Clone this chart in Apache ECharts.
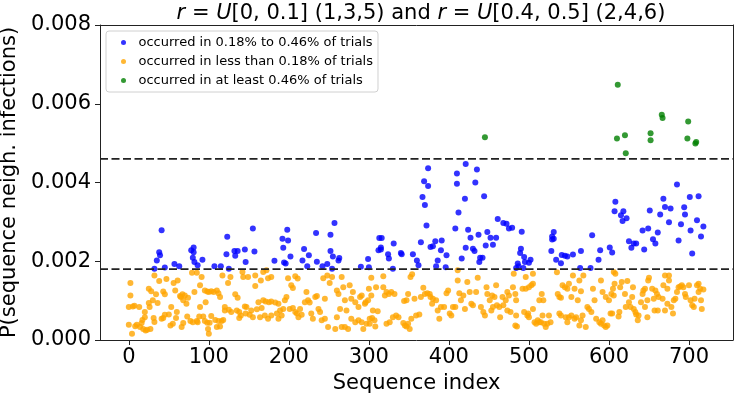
<!DOCTYPE html>
<html>
<head>
<meta charset="UTF-8">
<title>Sequence neighbourhood infections</title>
<style>
  html, body { margin:0; padding:0; background:#fff; }
  #chart { width:734px; height:397px; }
</style>
<script src="https://cdn.jsdelivr.net/npm/echarts@6/dist/echarts.min.js"></script>
</head>
<body>
<div id="chart"></div>
<script>
// values are [sequence index, probability in units of 1e-3]
const bluePts = [
  [32,1.81],[35,2.02],[38,2.23],[39,2.15],[41,2.79],[45,1.84],[57,1.93],[63,1.87],
  [78,2.28],[81,2.35],[81,2.23],[80,2.09],[82,1.98],[86,1.90],[92,2.04],[107,1.87],[115,1.87],
  [122,2.18],[123,2.62],[125,1.81],[132,2.26],[133,2.14],[136,2.26],[145,2.30],[146,1.98],
  [155,2.83],[157,2.25],[182,2.01],[192,2.57],[193,2.34],[194,1.97],[196,1.94],[198,2.80],
  [199,2.53],[202,2.12],[217,2.02],[219,2.31],[223,1.87],[225,2.15],[234,2.72],[235,1.99],
  [242,1.87],[248,1.93],[252,2.67],[252,2.26],[254,1.81],[255,2.12],[257,2.97],[262,2.02],
  [263,2.08],[290,1.86],[299,2.06],[300,1.85],
  [313,2.59],[316,2.59],[315,2.35],[312,2.28],[315,2.30],[324,2.18],[325,2.07],[331,2.45],
  [330,1.81],[340,2.21],[341,2.18],[355,2.18],[360,2.02],[362,1.90],[365,2.48],[374,4.36],
  [369,4.03],[374,3.91],[367,3.63],[370,3.43],[372,2.91],[377,2.36],[380,2.38],[383,2.51],
  [391,2.53],[390,2.28],[397,2.15],[386,2.02],[384,1.87],[396,1.85],[421,4.47],[410,4.23],
  [435,4.33],[410,3.97],[433,4.00],[420,3.59],[444,3.65],[412,3.24],[408,2.83],[424,2.80],
  [427,2.60],[437,2.67],[448,2.74],[446,2.40],[452,2.60],[421,2.34],[430,2.32],[432,2.26],
  [416,2.07],[439,2.09],[442,2.09],[438,1.98],
  [455,2.42],[459,2.60],[461,3.07],[468,2.97],[472,2.95],[475,2.83],[479,2.85],[491,2.75],
  [490,2.32],[489,2.21],[494,2.11],[495,1.98],[502,2.04],[500,1.96],[486,1.94],[487,1.87],
  [484,1.83],[493,1.83],[531,2.74],[529,2.63],[529,2.55],[531,2.57],[528,2.26],[534,2.04],
  [540,1.95],[541,2.16],[545,2.14],[548,2.12],[555,2.17],[565,2.26],[564,1.83],[579,2.66],
  [577,1.83],[589,2.28],[587,2.04],[601,2.35],[604,2.22],
  [608,3.51],[607,3.27],[615,3.17],[618,3.27],[617,3.02],[622,3.09],[625,2.51],[628,2.34],
  [631,2.45],[634,2.45],[644,2.30],[642,2.78],[649,2.83],[651,3.29],[661,2.73],[655,2.56],
  [658,2.45],[664,3.19],[668,3.59],[670,3.38],[677,3.34],[675,2.99],[685,3.95],[694,3.37],
  [695,3.19],[690,2.94],[687,2.53],[702,2.78],[701,3.63],[712,3.65],[710,3.04],[718,2.88],
  [715,2.63],[704,2.20]
];
const orangePts = [
  [2,1.45],[2,1.13],[0,0.84],[5,0.85],[7,0.87],[0,0.39],[4,0.16],[8,0.35],[10,0.39],[13,0.84],
  [14,0.33],[17,0.51],[20,0.71],[20,0.58],[18,0.28],[21,0.24],[16,0.43],[25,1.30],[28,1.24],
  [25,0.94],[30,1.01],[26,0.84],[32,1.64],[31,0.56],[32,0.46],[27,0.28],[23,0.26],[34,1.16],
  [38,1.50],[43,1.23],[45,1.16],[36,0.94],[41,0.54],[43,0.56],[47,1.55],[45,0.64],[50,0.65],
  [53,0.84],[52,0.37],[55,0.41],[56,1.45],[58,1.26],[60,0.71],[61,1.51],[59,0.56],[64,1.12],
  [67,1.16],[65,1.09],[70,1.13],[68,1.01],[68,0.43],[66,0.33],[73,0.60],[74,1.07],[72,0.92],
  [79,1.71],[85,1.71],[82,1.22],[77,0.48],[80,0.45],[85,0.48],[89,0.84],[88,0.60],[91,1.60],
  [89,1.39],[86,0.45],[95,1.26],[98,1.23],[100,1.22],[103,1.24],[93,0.60],[96,0.96],[99,0.28],
  [100,0.16],[103,0.61],[101,0.44],[98,0.44],[95,0.48],[106,1.22],[110,1.26],[112,1.19],
  [114,1.09],[108,0.51],[112,0.48],[116,0.48],[117,1.64],[110,0.33],[114,0.34],[118,0.51],
  [120,0.84],[125,0.77],[127,1.60],[128,0.71],[120,0.75],[124,1.45],[133,1.16],[136,1.07],
  [138,0.71],[142,1.73],[143,1.60],[140,0.62],[135,0.75],[138,0.56],[145,0.85],[146,0.67],
  [149,1.60],[158,1.64],[168,1.73],[172,1.77],[174,1.57],[178,1.60],[165,1.51],[158,1.37],
  [162,0.96],[168,1.01],[171,0.98],[175,0.96],[178,0.98],[183,0.95],[187,0.92],[147,0.84],
  [153,0.75],[160,0.78],[166,0.81],[151,0.64],[155,0.58],[164,0.58],[170,0.62],[174,0.54],
  [178,0.62],[185,0.67],[187,0.54],[189,0.75],[191,0.62],[193,0.79],[195,1.01],[197,1.09],
  [199,1.57],[203,1.39],[205,1.32],[208,1.62],[211,1.56],[201,0.79],[205,0.81],[208,0.71],
  [210,0.67],[214,0.79],[216,0.64],[212,0.58],[222,1.22],[220,0.96],[224,1.01],[226,0.95],
  [228,0.67],[230,0.54],[233,1.09],[235,1.12],[237,0.79],[239,0.71],[241,0.50],[245,1.05],
  [245,0.54],[243,1.57],[248,1.64],[251,1.45],[254,1.60],[249,0.33],[258,0.28],[260,1.26],
  [262,1.17],[268,1.34],[266,1.60],[270,1.01],[264,0.79],[260,0.58],[266,0.33],[270,0.33],
  [272,0.75],[274,0.28],[276,1.39],[278,1.05],[280,1.22],[283,0.96],[287,0.84],[289,1.09],
  [291,1.13],[295,0.92],[278,0.54],[283,0.45],[287,0.50],[291,0.45],[293,0.28],[296,0.96],
  [297,0.41],[299,1.01],[300,1.30],
  [303,1.58],[318,1.62],[303,1.13],[309,1.34],[318,1.34],[322,1.22],[325,1.17],[328,1.22],
  [332,1.17],[320,1.13],[301,0.54],[304,0.56],[307,0.50],[301,0.41],[308,0.34],[305,0.75],
  [311,0.73],[322,0.41],[326,0.45],[330,0.58],[334,0.62],[337,0.58],[343,0.43],[345,0.37],
  [347,0.34],[349,0.41],[351,0.28],[353,0.54],[344,0.99],[347,1.01],[349,1.17],[352,1.60],
  [354,1.67],[357,1.05],[359,0.62],[363,0.65],[365,1.09],[368,1.33],[370,1.17],[373,1.19],
  [376,1.17],[377,1.09],[379,0.92],[380,1.05],[384,1.01],[386,0.75],[388,0.54],[390,0.84],
  [394,0.84],[397,1.19],[399,1.26],[401,0.67],[403,0.62],[405,0.84],[408,0.84],[411,1.77],
  [411,1.51],[413,1.19],[415,1.01],[418,1.13],[420,0.79],[423,1.47],[426,1.22],[428,0.92],
  [430,0.88],[434,1.22],[436,1.58],[440,0.84],[443,0.71],[445,0.62],[447,1.34],[448,1.17],
  [451,1.01],[453,0.75],[454,1.13],
  [459,1.39],[457,1.09],[455,0.84],[460,0.88],[463,0.84],[464,0.58],[467,1.09],[468,0.88],
  [471,1.01],[473,1.22],[475,1.13],[473,0.75],[477,0.71],[480,1.34],[481,1.68],[483,1.17],
  [484,1.01],[484,0.62],[485,0.34],[483,0.37],[492,1.30],[496,1.60],[496,1.30],[500,1.34],
  [503,1.39],[505,1.43],[505,1.68],[499,0.67],[494,0.71],[498,0.62],[500,0.58],[505,0.79],
  [507,0.45],[509,0.41],[511,0.50],[513,0.45],[515,0.45],[517,0.62],[519,0.41],[521,0.33],
  [523,0.41],[525,0.62],[527,0.45],[513,1.01],[516,1.17],[518,1.01],[535,1.72],[536,1.17],
  [538,1.09],[540,1.07],[542,1.39],[545,1.34],[548,1.30],[550,1.43],[553,1.09],[555,1.64],
  [557,1.30],[561,1.01],[563,1.51],[565,1.24],[538,0.67],[540,0.62],[546,0.58],[548,0.45],
  [550,0.58],[553,0.62],[557,0.54],[559,0.58],[563,0.37],[565,0.50],[567,0.62],[568,1.64],
  [571,0.33],[573,0.84],[575,0.79],[578,0.71],[580,1.30],[582,1.01],[584,0.54],[588,0.45],
  [590,0.41],[592,0.50],[594,0.37],[596,0.33],[598,0.37],[590,1.51],[592,1.22],[596,1.09],
  [600,1.01],[603,1.17],[605,1.30],[607,1.43],[608,1.68],[602,0.67],
  [606,1.73],[606,1.13],[604,0.67],[614,1.34],[616,1.47],[623,1.50],[620,1.17],[613,0.71],
  [612,0.60],[621,0.84],[625,0.96],[627,0.84],[630,1.34],[629,1.09],[631,0.79],[633,0.71],
  [634,0.65],[637,0.62],[636,0.50],[640,0.96],[643,1.26],[645,1.30],[642,1.17],[648,1.01],
  [645,0.84],[649,1.51],[650,1.58],[648,0.58],[654,1.30],[656,1.05],[658,1.26],[660,1.17],
  [657,0.75],[661,0.75],[662,1.09],[667,1.05],[670,1.64],[668,1.39],[673,1.30],[675,1.64],
  [675,1.51],[670,0.75],[673,0.92],[678,0.84],[680,0.67],[681,1.01],[683,1.05],[685,1.22],
  [687,1.34],[689,1.36],[691,1.39],[693,1.34],[695,1.17],[696,1.09],[700,1.39],[702,1.01],
  [704,0.88],[706,0.84],[707,1.05],[710,1.39],[712,1.43],[714,1.30],[715,1.01],[716,0.79],
  [718,1.28],[712,1.22]
];
const greenPts = [
  [445,5.15],[611,6.48],[610,5.12],[620,5.20],[621,4.74],[652,5.25],[652,5.07],
  [666,5.72],[667,5.64],[699,5.55],[698,5.12],[709,5.03],[708,4.99]
];
const thresholds = [0.0018, 0.0046];
const xRange = [-36, 755];
const xTicks = [0, 100, 200, 300, 400, 500, 600, 700];
const seriesNames = [
  'occurred in 0.18% to 0.46% of trials',
  'occurred in less than 0.18% of trials',
  'occurred in at least 0.46% of trials'
];

const toData = pts => pts.map(p => [p[0], p[1] / 1000]);
const FONT = 'DejaVu Sans';
const AXIS_COLOR = '#222';

// frame axes (top / right spines)
const frameX = {
  type: 'value', position: 'top', min: xRange[0], max: xRange[1],
  axisLine: { show: true, onZero: false, lineStyle: { color: AXIS_COLOR } },
  axisTick: { show: false }, axisLabel: { show: false }, splitLine: { show: false }
};
const frameY = {
  type: 'value', position: 'right', min: 0, max: 0.008,
  axisLine: { show: true, onZero: false, lineStyle: { color: AXIS_COLOR } },
  axisTick: { show: false }, axisLabel: { show: false }, splitLine: { show: false }
};

const chart = echarts.init(document.getElementById('chart'), null, { renderer: 'canvas' });
chart.setOption({
  animation: false,
  textStyle: { fontFamily: FONT },
  title: {
    text: '{i|r} = {i|U}[0, 0.1] (1,3,5) and {i|r} = {i|U}[0.4, 0.5] (2,4,6)',
    left: 416, top: -2, textAlign: 'center',
    textStyle: {
      fontFamily: FONT, fontSize: 21, fontWeight: 'normal', color: '#000',
      rich: { i: { fontFamily: FONT, fontSize: 21, fontStyle: 'italic', color: '#000' } }
    }
  },
  legend: {
    orient: 'vertical', left: 106, top: 31,
    padding: [5, 5, 5, 15],
    itemWidth: 20, itemHeight: 5, itemGap: 6,
    icon: 'circle',
    backgroundColor: '#fff', borderColor: '#d0d0d0', borderWidth: 1, borderRadius: 3,
    textStyle: { fontFamily: FONT, fontSize: 13, color: '#000', lineHeight: 12 },
    data: seriesNames
  },
  grid: { left: 100, right: 1, top: 25, bottom: 57, outerBoundsMode: 'none' },
  xAxis: [{
    type: 'value', min: xRange[0], max: xRange[1],
    name: 'Sequence index', nameLocation: 'middle', nameGap: 30,
    nameTextStyle: { fontFamily: FONT, fontSize: 21, color: '#000' },
    axisLine: { show: true, onZero: false, lineStyle: { color: AXIS_COLOR } },
    axisTick: { show: true, length: 5, customValues: xTicks, lineStyle: { color: AXIS_COLOR } },
    axisLabel: { customValues: xTicks, fontFamily: FONT, fontSize: 21, color: '#000', margin: 7 },
    splitLine: { show: false }
  }, frameX],
  yAxis: [{
    type: 'value', min: 0, max: 0.008, interval: 0.002,
    name: 'P(sequence neigh. infections)', nameLocation: 'middle', nameGap: 74,
    nameTextStyle: { fontFamily: FONT, fontSize: 21, color: '#000' },
    axisLine: { show: true, onZero: false, lineStyle: { color: AXIS_COLOR } },
    axisTick: { show: true, length: 5, lineStyle: { color: AXIS_COLOR } },
    axisLabel: { fontFamily: FONT, fontSize: 21, color: '#000', margin: 9, formatter: v => v.toFixed(3) },
    splitLine: { show: false }
  }, frameY],
  series: [
    {
      name: seriesNames[0], type: 'scatter', data: toData(bluePts),
      symbolSize: 6, itemStyle: { color: '#0000ff' }
    },
    {
      name: seriesNames[1], type: 'scatter', data: toData(orangePts),
      symbolSize: 6, itemStyle: { color: '#ffa500' }
    },
    {
      name: seriesNames[2], type: 'scatter', data: toData(greenPts),
      symbolSize: 6, itemStyle: { color: '#008000' }
    },
    ...thresholds.map(t => ({
      name: 'threshold ' + t, type: 'line', silent: true,
      data: [[xRange[0], t], [xRange[1], t]],
      symbol: 'none', z: 5,
      lineStyle: { color: AXIS_COLOR, type: [8, 3.5], width: 1.8 }
    }))
  ]
});
</script>
</body>
</html>
